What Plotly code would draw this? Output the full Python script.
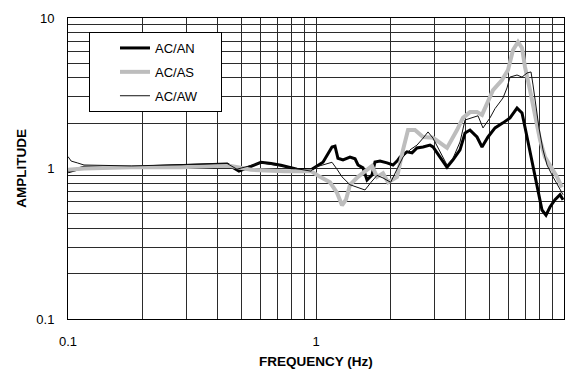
import plotly.graph_objects as go

# ---- data ----
an_freq = [0.1, 0.106, 0.116, 0.18, 0.286, 0.438, 0.489, 0.60, 0.659, 0.722, 0.838, 0.955,
           0.991, 1.067, 1.16, 1.193, 1.226, 1.285, 1.371, 1.437, 1.477, 1.547, 1.606, 1.682,
           1.729, 1.812, 1.934, 2.044, 2.122, 2.182, 2.328, 2.439, 2.554, 2.701, 2.882, 2.964,
           3.162, 3.375, 3.568, 3.808, 3.99, 4.178, 4.459, 4.671, 4.938, 5.271, 5.675, 6.057,
           6.465, 6.772, 7.094, 7.43, 7.782, 8.152, 8.461, 8.782, 9.2, 9.636, 9.91]
an_amp = [0.95, 0.98, 1.02, 1.02, 1.04, 1.07, 0.96, 1.10, 1.08, 1.05, 0.99, 0.98,
          1.02, 1.10, 1.39, 1.41, 1.17, 1.14, 1.19, 1.16, 1.055, 1.01, 0.84, 0.905,
          1.105, 1.12, 1.09, 1.055, 1.12, 1.19, 1.29, 1.27, 1.37, 1.39, 1.43, 1.39,
          1.19, 1.02, 1.14, 1.33, 1.72, 1.80, 1.62, 1.39, 1.62, 1.86, 2.01, 2.17,
          2.52, 2.34, 1.62, 1.12, 0.75, 0.53, 0.49, 0.555, 0.62, 0.67, 0.62]

as_freq = [0.1, 0.116, 0.18, 0.286, 0.388, 0.454, 0.547, 0.659, 0.743, 0.838, 0.955,
           1.038, 1.139, 1.215, 1.273, 1.321, 1.371, 1.477, 1.606, 1.682, 1.762, 1.863,
           1.952, 2.122, 2.243, 2.35, 2.507, 2.701, 2.964, 3.162, 3.375, 3.703, 3.914,
           4.178, 4.459, 4.671, 4.892, 5.173, 5.623, 5.946, 6.229, 6.525, 6.772, 6.961,
           7.293, 7.64, 8.004, 8.383, 8.945, 9.372, 9.815]
as_amp = [0.98, 1.0, 1.02, 1.02, 1.04, 1.04, 0.98, 0.96, 0.96, 0.96, 0.96,
          0.88, 0.81, 0.69, 0.57, 0.62, 0.78, 0.88, 0.98, 1.04, 0.88, 0.93,
          0.81, 0.88, 1.33, 1.80, 1.80, 1.62, 1.60, 1.48, 1.37, 1.80, 2.17,
          2.37, 2.37, 2.27, 2.72, 3.32, 3.87, 4.51, 6.13, 6.93, 6.32, 4.73,
          3.32, 2.27, 1.55, 1.19, 1.0, 0.88, 0.75]

aw_freq = [0.1, 0.103, 0.109, 0.116, 0.18, 0.286, 0.347, 0.438, 0.48, 0.60, 0.696, 0.838,
           0.955, 0.991, 1.067, 1.16, 1.215, 1.273, 1.371, 1.477, 1.576, 1.667, 1.762,
           1.863, 2.0, 2.122, 2.243, 2.393, 2.554, 2.701, 2.829, 2.964, 3.162, 3.375,
           3.568, 3.808, 3.99, 4.256, 4.5, 4.714, 5.03, 5.271, 5.675, 5.89, 6.057, 6.465,
           6.772, 7.094, 7.362, 7.5, 7.71, 7.93, 8.23, 8.54, 9.03, 9.636, 9.91]
aw_amp = [1.2, 1.12, 1.09, 1.055, 1.04, 1.06, 1.07, 1.08, 0.99, 1.09, 1.05, 1.0,
          0.96, 1.02, 1.055, 1.10, 0.99, 0.88, 0.78, 0.75, 0.72, 0.81, 0.90,
          0.865, 0.81, 0.99, 1.19, 1.33, 1.43, 1.59, 1.75, 1.59, 1.29, 1.055,
          1.17, 1.50, 2.10, 2.17, 2.24, 1.86, 2.17, 2.5, 2.94, 3.43, 4.05, 4.18,
          4.05, 4.31, 4.38, 3.59, 2.64, 1.86, 1.33, 1.055, 0.88, 0.72, 0.67]

series_names = ["AC/AN", "AC/AS", "AC/AW"]

grid_vals = [0.1, 0.2, 0.3, 0.4, 0.5, 0.6, 0.7, 0.8, 0.9,
             1, 2, 3, 4, 5, 6, 7, 8, 9, 10]
grid_text = ["0.1", "", "", "", "", "", "", "", "",
             "1", "", "", "", "", "", "", "", "", "10"]

FONT = "Liberation Sans, Arial, sans-serif"
PAD = "\u00a0" * 5  # widens the legend box to match the reference

fig = go.Figure()
fig.add_trace(go.Scatter(x=an_freq, y=an_amp, mode="lines", name=series_names[0] + PAD,
                         legendgroup="a", line=dict(color="black", width=3)))
fig.add_trace(go.Scatter(x=as_freq, y=as_amp, mode="lines", name=series_names[1] + PAD,
                         legendgroup="b", line=dict(color="#bdbdbd", width=4)))
fig.add_trace(go.Scatter(x=aw_freq, y=aw_amp, mode="lines", name=series_names[2] + PAD,
                         legendgroup="c", line=dict(color="#111111", width=1)))

axis_common = dict(
    type="log", range=[-1, 1],
    tickvals=grid_vals, ticktext=grid_text,
    showgrid=True, gridcolor="#2b2b2b", gridwidth=1,
    showline=True, linecolor="black", linewidth=1, mirror=True,
    ticks="", zeroline=False,
    tickfont=dict(family=FONT, size=13, color="black"),
)

fig.update_xaxes(**axis_common, ticklabelstandoff=10,
                 title=dict(text="<b>FREQUENCY (Hz)</b>", standoff=8,
                            font=dict(family=FONT, size=13.5, color="black")))
fig.update_yaxes(**axis_common, ticklabelstandoff=10,
                 title=dict(text="<b>AMPLITUDE</b>", standoff=6,
                            font=dict(family=FONT, size=13.5, color="black")))

fig.update_layout(
    width=571, height=374,
    margin=dict(l=68, r=7, t=18, b=55, autoexpand=False),
    paper_bgcolor="white", plot_bgcolor="white",
    showlegend=True,
    legend=dict(x=0.0423, y=0.9535, xanchor="left", yanchor="top",
                bgcolor="white", bordercolor="black", borderwidth=1,
                font=dict(family=FONT, size=13, color="black"),
                tracegroupgap=4, indentation=25),
)

fig.write_html("out.html")
